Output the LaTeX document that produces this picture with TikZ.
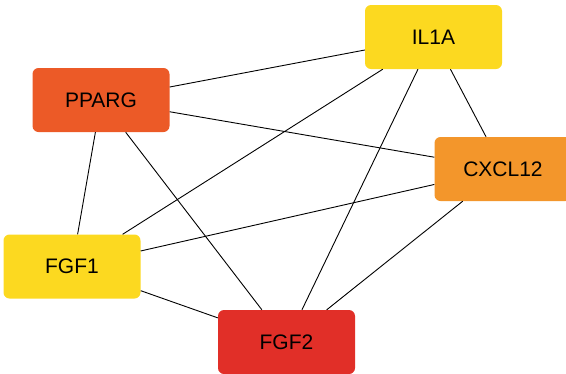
\documentclass[tikz,border=0pt]{standalone}
\usepackage{fontspec}
\setmainfont{Liberation Sans}
\definecolor{cyellow}{HTML}{FCD920}
\definecolor{cred}{HTML}{E12F28}
\definecolor{corange}{HTML}{F3962B}
\definecolor{cpparg}{HTML}{EC5A27}
\begin{document}
\begin{tikzpicture}[x=1pt,y=-1pt,
  gene/.style={rectangle, rounded corners=6pt, minimum width=137pt, minimum height=64pt, inner sep=0pt, font=\fontsize{21}{24}\selectfont, text=black},
  edge/.style={line width=0.9pt, black}]
\useasboundingbox (0,0) rectangle (566,373);
\begin{scope}
\clip (0,0) rectangle (566,373);
\node[gene, fill=cyellow] (il1a) at (433.5,37) {IL1A};
\node[gene, fill=cpparg] (pparg) at (101,100) {PPARG};
\node[gene, fill=corange] (cxcl12) at (503,169) {CXCL12};
\node[gene, fill=cyellow] (fgf1) at (72,266.5) {FGF1};
\node[gene, fill=cred] (fgf2) at (286.5,342) {FGF2};
\begin{scope}[on background layer/.style={}]
\end{scope}
\end{scope}
\begin{scope}
\clip (0,0) rectangle (566,373);
\draw[edge] (pparg) -- (il1a);
\draw[edge] (pparg) -- (cxcl12);
\draw[edge] (pparg) -- (fgf1);
\draw[edge] (pparg) -- (fgf2);
\draw[edge] (il1a) -- (fgf1);
\draw[edge] (il1a) -- (fgf2);
\draw[edge] (il1a) -- (cxcl12);
\draw[edge] (cxcl12) -- (fgf1);
\draw[edge] (cxcl12) -- (fgf2);
\draw[edge] (fgf1) -- (fgf2);
\end{scope}
\end{tikzpicture}
\end{document}
